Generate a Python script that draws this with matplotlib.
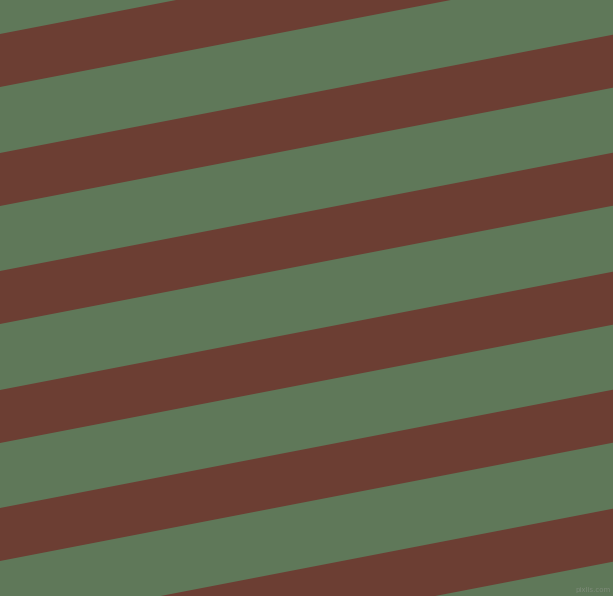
import numpy as np
import matplotlib.pyplot as plt

# canvas size in pixels
width = 613
height = 596

# brown bands: y of the upper edge at the left border, band thickness, slope
band_tops = [34, 153, 271, 390, 508, 627]
band_thickness = 53
band_slope = -0.193

green = "#5f7859"
brown = "#6c3e33"

fig = plt.figure(figsize=(width / 100, height / 100), dpi=100)
ax = fig.add_axes([0, 0, 1, 1])
ax.set_facecolor(green)
ax.set_xlim(0, width)
ax.set_ylim(height, 0)
ax.axis("off")
fig.patch.set_facecolor(green)

x = np.array([0, width])
for top in band_tops:
    upper = top + band_slope * x
    ax.fill_between(x, upper, upper + band_thickness, color=brown, linewidth=0)

ax.text(width - 2, height - 6, "pixlis.com", color="#7d8a78", fontsize=5,
        ha="right", va="center")

fig.savefig("out.png", dpi=100, facecolor=green)
